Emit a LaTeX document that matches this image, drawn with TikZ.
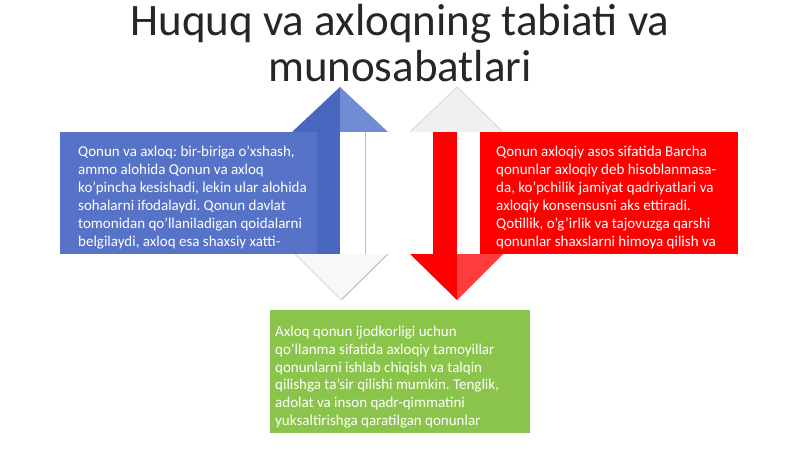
\documentclass[tikz,border=0pt]{standalone}
\usepackage{fontspec}
\setmainfont{Carlito}
\frenchspacing
\definecolor{bluerect}{RGB}{86,115,199}
\definecolor{blueshaft}{RGB}{72,104,192}
\definecolor{bluelight}{RGB}{112,140,212}
\definecolor{redmain}{RGB}{255,0,0}
\definecolor{redlight}{RGB}{255,60,60}
\definecolor{greenbox}{RGB}{139,196,74}
\definecolor{faint}{RGB}{240,240,240}
\definecolor{edgegray}{RGB}{190,190,190}
\begin{document}
\begin{tikzpicture}[x=1pt,y=-1pt,
  bodytext/.style={anchor=base west,inner sep=0pt,align=left,text=white,font=\fontsize{15}{17.8}\selectfont},
  titletext/.style={anchor=base,inner sep=0pt,align=center,text=black!85,font=\fontsize{45}{46}\selectfont}]
\useasboundingbox (0,0) rectangle (800,449);
\fill[white] (0,0) rectangle (800,449);
% faint opposite heads
\fill[faint] (410,132) -- (457,87) -- (503,132) -- cycle;
\draw[faint!70!gray,line width=0.6pt] (410,132) -- (457,87) -- (503,132);
\fill[faint!50!white] (295,254) -- (341,300) -- (388,254) -- cycle;
\draw[faint!80!gray,line width=0.8pt] (295,254) -- (341,300);
\draw[edgegray,line width=1pt] (341,300) -- (388,254);
% blue box and up arrow
\fill[bluerect] (60,132) rectangle (340,254);
\fill[blueshaft] (317,132) rectangle (340,254);
\fill[blueshaft] (292,132) -- (340,87) -- (340,132) -- cycle;
\fill[bluelight] (340,87) -- (388,132) -- (340,132) -- cycle;
\draw[edgegray,line width=1pt] (365,132) -- (365,254);
% red box and down arrow
\fill[redmain] (480,132) rectangle (738,254);
\fill[redmain] (433,132) rectangle (457,254);
\fill[redmain] (410,254) -- (457,300) -- (457,254) -- cycle;
\fill[redlight] (457,254) -- (503,254) -- (457,300) -- cycle;
% green box
\fill[greenbox] (270,310) rectangle (530,433);
% title
\node[titletext] (title1) at (400,36) {Huquq va axloqning tabiati va};
\node[titletext] (title2) at (400,82) {munosabatlari};
% texts (anchored at baseline of last line)
\node[bodytext] (bluetext) at (78,246) {Qonun va axloq: bir-biriga o'xshash,\\ammo alohida Qonun va axloq\\ko'pincha kesishadi, lekin ular alohida\\sohalarni ifodalaydi. Qonun davlat\\tomonidan qo'llaniladigan qoidalarni\\belgilaydi, axloq esa shaxsiy xatti-};
\node[bodytext] (redtext) at (496,246) {Qonun axloqiy asos sifatida Barcha\\qonunlar axloqiy deb hisoblanmasa-\\da, ko'pchilik jamiyat qadriyatlari va\\axloqiy konsensusni aks ettiradi.\\Qotillik, o'g'irlik va tajovuzga qarshi\\qonunlar shaxslarni himoya qilish va};
\node[bodytext] (greentext) at (275,425.5) {Axloq qonun ijodkorligi uchun\\qo'llanma sifatida axloqiy tamoyillar\\qonunlarni ishlab chiqish va talqin\\qilishga ta'sir qilishi mumkin. Tenglik,\\adolat va inson qadr-qimmatini\\yuksaltirishga qaratilgan qonunlar};
\end{tikzpicture}
\end{document}
